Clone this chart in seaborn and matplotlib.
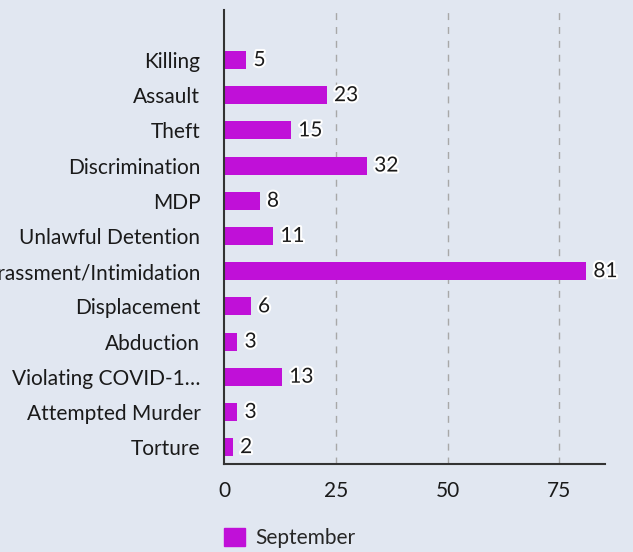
import matplotlib
matplotlib.use("Agg")
import matplotlib.pyplot as plt
import matplotlib.patheffects as pe
from matplotlib.patches import Patch
import seaborn as sns
import pandas as pd

categories = ["Killing", "Assault", "Theft", "Discrimination", "MDP",
              "Unlawful Detention", "Harassment/Intimidation", "Displacement",
              "Abduction", "Violating COVID-1\u2026", "Attempted Murder", "Torture"]
september = [5, 23, 15, 32, 8, 11, 81, 6, 3, 13, 3, 2]
series_name = "September"
x_ticks = [0, 25, 50, 75]

BG = "#e1e7f1"
BAR = "#c010d8"
TXT = "#1a1a1a"
FS = 15

sns.set_theme(style="white")
plt.rcParams["font.family"] = ["Lato", "DejaVu Sans"]

df = pd.DataFrame({"category": categories, "value": september, "series": series_name})

fig = plt.figure(figsize=(6.33, 5.52), dpi=100, facecolor=BG)
ax = fig.add_axes([224/633, 88/552, (605-224)/633, (464-10)/552])
ax.set_facecolor(BG)

sns.barplot(data=df, x="value", y="category", hue="series", palette=[BAR],
            orient="h", width=0.51, ax=ax, legend=False, saturation=1,
            linewidth=0, edgecolor=BAR)

ax.set_xlim(0, 85.2)
ax.set_ylim(11.48, -1.42)
ax.set_xticks(x_ticks)
ax.set_xlabel("")
ax.set_ylabel("")
for t in x_ticks[1:]:
    ax.axvline(t, color="#a8a8a8", linestyle=(0, (5, 5)), linewidth=1, zorder=0)

for s in ["top", "right"]:
    ax.spines[s].set_visible(False)
for s in ["left", "bottom"]:
    ax.spines[s].set_color("#333333")
    ax.spines[s].set_linewidth(1.5)

ax.tick_params(axis="both", length=0, labelsize=FS, colors=TXT)
ax.tick_params(axis="y", pad=17)
ax.tick_params(axis="x", pad=12)

for i, v in enumerate(september):
    ax.text(v + 1.6, i, str(v), va="center", ha="left", fontsize=FS, color=TXT,
            path_effects=[pe.withStroke(linewidth=3, foreground="white")])

handles = [Patch(facecolor=BAR, edgecolor=BAR, label=series_name)]
fig.legend(handles=handles, loc="lower left", bbox_to_anchor=(224/633, 4/552),
           frameon=False, fontsize=FS, handlelength=1.0, handleheight=1.0,
           handletextpad=0.5, borderpad=0, borderaxespad=0)

fig.savefig("out.png", dpi=100, facecolor=BG)
